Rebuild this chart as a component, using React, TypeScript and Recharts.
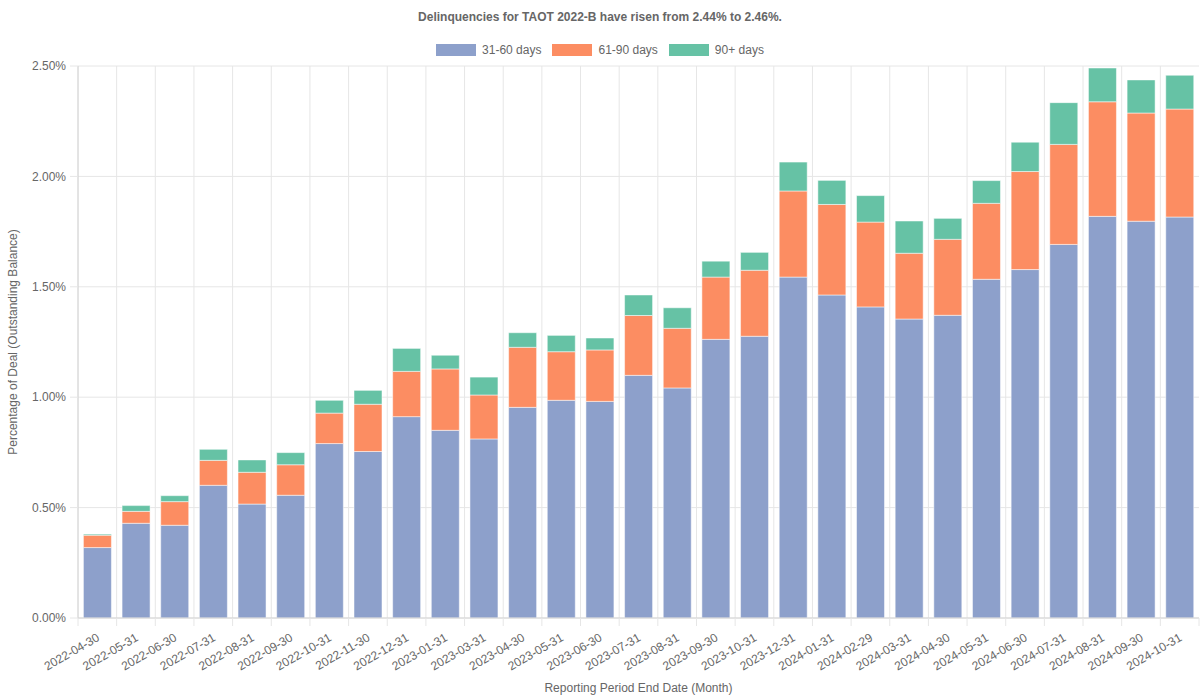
import React from 'react'
import { BarChart, Bar, XAxis, YAxis, CartesianGrid, Label } from 'recharts'

const categories = [
  '2022-04-30', '2022-05-31', '2022-06-30', '2022-07-31', '2022-08-31', '2022-09-30',
  '2022-10-31', '2022-11-30', '2022-12-31', '2023-01-31', '2023-03-31', '2023-04-30',
  '2023-05-31', '2023-06-30', '2023-07-31', '2023-08-31', '2023-09-30', '2023-10-31',
  '2023-12-31', '2024-01-31', '2024-02-29', '2024-03-31', '2024-04-30', '2024-05-31',
  '2024-06-30', '2024-07-31', '2024-08-31', '2024-09-30', '2024-10-31'
]

// percent of outstanding balance
const days31to60 = [
  0.319, 0.429, 0.42, 0.601, 0.516, 0.556, 0.79, 0.754, 0.912, 0.85, 0.811, 0.954,
  0.986, 0.981, 1.099, 1.042, 1.262, 1.276, 1.544, 1.463, 1.409, 1.354, 1.371, 1.534,
  1.578, 1.692, 1.819, 1.797, 1.816
]
const days61to90 = [
  0.056, 0.054, 0.107, 0.113, 0.144, 0.138, 0.138, 0.214, 0.205, 0.278, 0.199, 0.272,
  0.22, 0.233, 0.271, 0.27, 0.282, 0.299, 0.39, 0.41, 0.384, 0.298, 0.344, 0.344,
  0.444, 0.453, 0.519, 0.49, 0.489
]
const days90plus = [
  0.005, 0.026, 0.027, 0.05, 0.056, 0.055, 0.058, 0.063, 0.104, 0.062, 0.081, 0.066,
  0.074, 0.054, 0.093, 0.093, 0.072, 0.081, 0.131, 0.109, 0.12, 0.146, 0.095, 0.103,
  0.133, 0.189, 0.153, 0.15, 0.153
]

const yTicks = [0, 0.5, 1, 1.5, 2, 2.5]

const series = [
  { key: 'd31', name: '31-60 days', color: '#8da0cb' },
  { key: 'd61', name: '61-90 days', color: '#fc8d62' },
  { key: 'd90', name: '90+ days', color: '#66c2a5' }
]

const data = categories.map((date, i) => ({
  date,
  d31: days31to60[i],
  d61: days61to90[i],
  d90: days90plus[i]
}))

const WIDTH = 1200
const HEIGHT = 700
const Y_AXIS_W = 78
const RIGHT = 1
const BAND = (WIDTH - Y_AXIS_W - RIGHT) / categories.length
const GRID = '#e6e6e6'
const TEXT = '#666'

function DateTick(props: any) {
  const { x, y, payload, index } = props
  const half = BAND / 2
  const tx = x + 3
  const ty = y + 22
  return (
    <g>
      <line x1={x - half} x2={x - half} y1={y} y2={y + 8} stroke={GRID} />
      {index === categories.length - 1 && (
        <line x1={x + half} x2={x + half} y1={y} y2={y + 8} stroke={GRID} />
      )}
      <text
        x={tx}
        y={ty}
        textAnchor="end"
        fill={TEXT}
        fontSize={12}
        transform={`rotate(-30 ${tx} ${ty})`}
      >
        {payload.value}
      </text>
    </g>
  )
}

export default function App() {
  return (
    <div
      style={{
        position: 'absolute',
        left: 0,
        top: 0,
        width: WIDTH,
        height: HEIGHT,
        fontFamily: '"Liberation Sans", Arial, Helvetica, sans-serif',
        background: '#fff'
      }}
    >
      <div
        style={{
          position: 'absolute',
          top: 10,
          left: 0,
          width: WIDTH,
          textAlign: 'center',
          fontSize: 12,
          lineHeight: '14px',
          fontWeight: 'bold',
          color: TEXT
        }}
      >
        Delinquencies for TAOT 2022-B have risen from 2.44% to 2.46%.
      </div>
      <div
        style={{
          position: 'absolute',
          top: 43,
          left: 0,
          width: WIDTH,
          display: 'flex',
          justifyContent: 'center',
          fontSize: 12,
          lineHeight: '14px',
          color: TEXT
        }}
      >
        {series.map((s, i) => (
          <div
            key={s.key}
            style={{ display: 'flex', alignItems: 'center', marginLeft: i === 0 ? 0 : 11 }}
          >
            <span
              style={{
                display: 'inline-block',
                width: 40,
                height: 12,
                background: s.color,
                marginRight: 6
              }}
            />
            <span>{s.name}</span>
          </div>
        ))}
      </div>
      <BarChart
        width={WIDTH}
        height={HEIGHT}
        data={data}
        margin={{ top: 66, right: RIGHT, bottom: 0, left: 0 }}
        barCategoryGap="14%"
        style={{ position: 'absolute', left: 0, top: 0 }}
      >
        <CartesianGrid
          stroke={GRID}
          verticalCoordinatesGenerator={({ offset }: any) =>
            categories.map((_, i) => offset.left + (i * offset.width) / categories.length)
          }
        />
        <XAxis
          dataKey="date"
          interval={0}
          height={82}
          tickSize={0}
          tickMargin={0}
          tickLine={false}
          axisLine={{ stroke: '#d4d4d4' }}
          tick={<DateTick />}
        >
          <Label
            content={({ viewBox }: any) => (
              <text
                x={viewBox.x + viewBox.width / 2}
                y={692}
                textAnchor="middle"
                fill={TEXT}
                fontSize={12}
              >
                Reporting Period End Date (Month)
              </text>
            )}
          />
        </XAxis>
        <YAxis
          width={Y_AXIS_W}
          domain={[0, 2.5]}
          ticks={yTicks}
          tickFormatter={(v: number) => `${v.toFixed(2)}%`}
          tickSize={8}
          tickMargin={4}
          tickLine={{ stroke: GRID }}
          axisLine={{ stroke: '#d4d4d4' }}
          tick={{ fill: TEXT, fontSize: 12 }}
        >
          <Label
            content={({ viewBox }: any) => {
              const cx = 13
              const cy = viewBox.y + viewBox.height / 2
              return (
                <text
                  x={cx}
                  y={cy}
                  textAnchor="middle"
                  dominantBaseline="central"
                  fill={TEXT}
                  fontSize={12}
                  transform={`rotate(-90 ${cx} ${cy})`}
                >
                  Percentage of Deal (Outstanding Balance)
                </text>
              )
            }}
          />
        </YAxis>
        {series.map((s) => (
          <Bar
            key={s.key}
            dataKey={s.key}
            name={s.name}
            stackId="a"
            fill={s.color}
            stroke="rgba(255,255,255,0.5)"
            strokeWidth={1}
            isAnimationActive={false}
          />
        ))}
      </BarChart>
    </div>
  )
}
